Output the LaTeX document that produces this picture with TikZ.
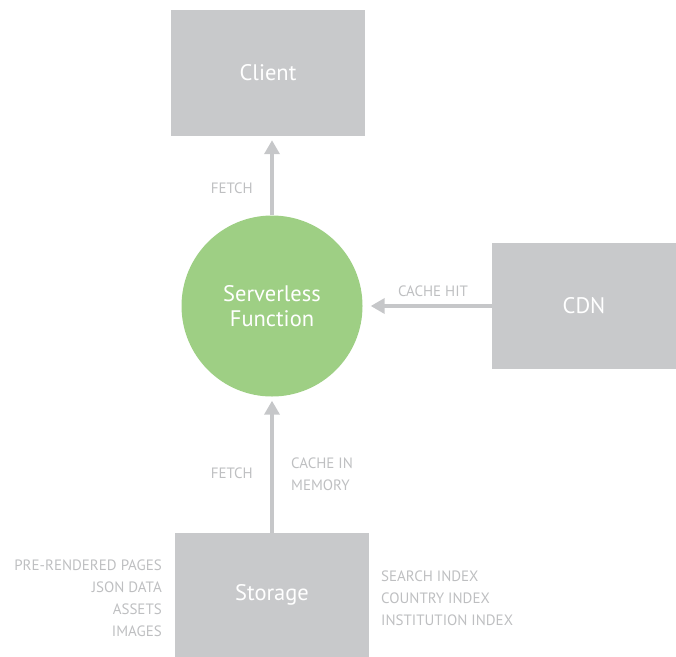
\documentclass[tikz,border=0pt]{standalone}
\usepackage{fontspec}
\setmainfont{PT Sans}
\usetikzlibrary{positioning}
\usetikzlibrary{arrows.meta}

\definecolor{boxgrey}{RGB}{200,201,203}
\definecolor{fngreen}{RGB}{158,207,132}
\definecolor{labelgrey}{RGB}{190,191,193}
\definecolor{arrowgrey}{RGB}{198,199,201}

\tikzset{
    block/.style={fill=boxgrey, text=white, inner sep=0pt,
        minimum width=194pt, minimum height=126pt,
        font=\fontsize{22.5}{25}\selectfont},
    func/.style={circle, fill=fngreen, text=white, align=center,
        minimum size=181pt, inner sep=0pt,
        font=\fontsize{22.5}{25}\selectfont},
    flow/.style={arrowgrey, line width=4pt,
        -{Triangle[width=15pt,length=14pt]}},
    lbl/.style={text=labelgrey, inner sep=0pt,
        font=\fontsize{15}{22}\selectfont}
}

\begin{document}
\begin{tikzpicture}[x=1pt, y=-1pt]
        \useasboundingbox (0,0) rectangle (676,656);

        \node[block, name=client] at (268, 73) {Client};
        \node[func, name=fn] at (272, 306) {Serverless\\Function};
        \node[block, minimum width=184pt, name=cdn] at (584, 306) {CDN};
        \node[block, minimum height=124pt, name=storage] at (272, 595) {Storage};

        \draw[flow, shorten >=4pt] (fn.north) -- (fn.north |- client.south);
        \draw[flow, shorten >=8pt] (cdn.west) -- (fn.east);
        \draw[flow, shorten >=4pt] (storage.north) -- (fn.south);

        \node[lbl, anchor=east, name=fetchup] at (253, 188) {FETCH};
        \node[lbl, name=cachehit] at (433, 291) {CACHE HIT};
        \node[lbl, anchor=east, name=fetchin] at (253, 473) {FETCH};
        \node[lbl, anchor=west, align=left, name=cachemem] at (291, 474) {CACHE IN\\MEMORY};

        \node[lbl, anchor=east, align=right, name=pages] at (162, 598)
            {PRE-RENDERED PAGES\\JSON DATA\\ASSETS\\IMAGES};
        \node[lbl, anchor=west, align=left, name=indexes] at (381, 598)
            {SEARCH INDEX\\COUNTRY INDEX\\INSTITUTION INDEX};
    \end{tikzpicture}
\end{document}
